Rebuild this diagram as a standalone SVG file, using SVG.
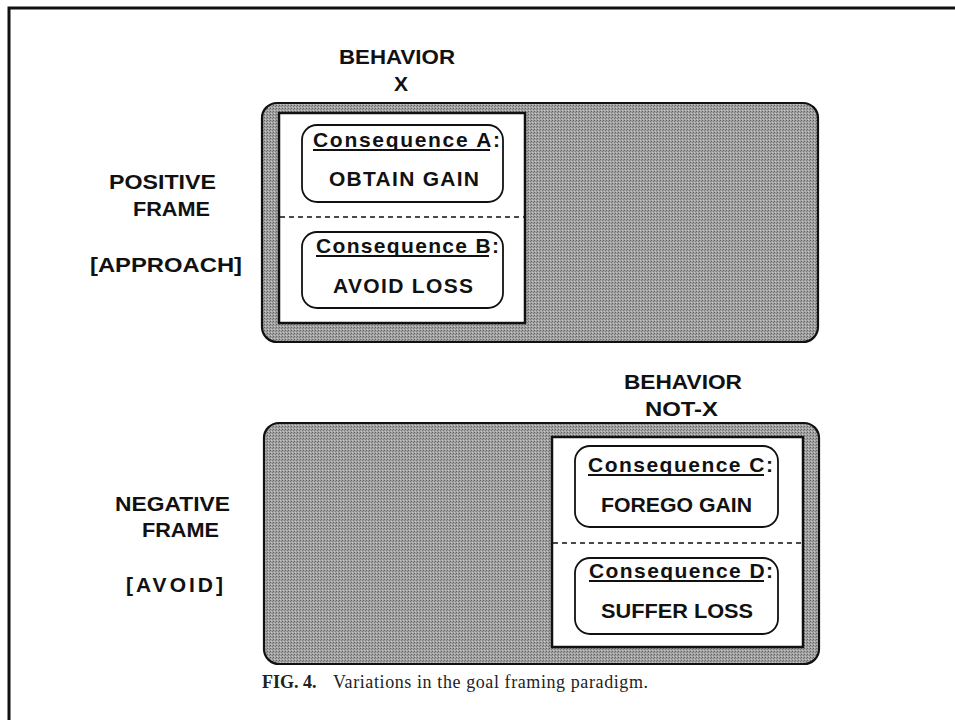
<svg xmlns="http://www.w3.org/2000/svg" width="955" height="720" viewBox="0 0 955 720">
<defs>
<pattern id="halftone" width="3" height="3" patternUnits="userSpaceOnUse">
<rect width="3" height="3" fill="#a2a2a2"/>
<rect x="0" y="0" width="1" height="1" fill="#626262"/>
<rect x="2" y="1" width="1" height="1" fill="#7c7c7c"/>
<rect x="1" y="2" width="1" height="1" fill="#c8c8c8"/>
</pattern>
<style>
.lbl{font-family:"Liberation Sans",Arial,sans-serif;font-weight:bold;font-size:21px;fill:#111}
.cap{font-family:"Liberation Serif","Times New Roman",serif;font-size:18px;fill:#222}
.gray{fill:url(#halftone);stroke:#111;stroke-width:2.2}
.white{fill:#fff;stroke:#111;stroke-width:2.5}
.cons{fill:#fff;stroke:#111;stroke-width:1.8}
.ul{stroke:#111;stroke-width:1.8}
.dash{stroke:#111;stroke-width:1.5;stroke-dasharray:5 4;fill:none}
</style>
</defs>
<rect width="955" height="720" fill="#fff"/>
<path d="M9,720 V8 H955" fill="none" stroke="#111" stroke-width="3"/>

<g id="frame-labels">
<text class="lbl" x="109" y="189" textLength="107" lengthAdjust="spacingAndGlyphs">POSITIVE</text>
<text class="lbl" x="133" y="216" textLength="77" lengthAdjust="spacingAndGlyphs">FRAME</text>
<text class="lbl" x="90" y="272" textLength="152" lengthAdjust="spacingAndGlyphs">[APPROACH]</text>
<text class="lbl" x="115" y="511" textLength="115" lengthAdjust="spacingAndGlyphs">NEGATIVE</text>
<text class="lbl" x="142" y="537" textLength="77" lengthAdjust="spacingAndGlyphs">FRAME</text>
<text class="lbl" x="126" y="592" textLength="97" lengthAdjust="spacing">[AVOID]</text>
</g>

<g id="behavior-x">
<text class="lbl" x="339" y="64" textLength="116" lengthAdjust="spacingAndGlyphs">BEHAVIOR</text>
<text class="lbl" x="401" y="91" text-anchor="middle">X</text>
<rect class="gray" x="262" y="103" width="556" height="239" rx="15"/>
<rect class="white" x="279" y="113" width="246" height="210"/>
<line class="dash" x1="280" y1="217" x2="524" y2="217"/>
</g>

<g id="consequence-a">
<rect class="cons" x="302" y="125" width="201" height="77" rx="15"/>
<text class="lbl" x="313" y="147" textLength="187" lengthAdjust="spacing">Consequence A:</text>
<line class="ul" x1="313" y1="150" x2="490" y2="150"/>
<text class="lbl" x="329" y="186" textLength="150" lengthAdjust="spacing">OBTAIN GAIN</text>
</g>

<g id="consequence-b">
<rect class="cons" x="302" y="232" width="201" height="76" rx="15"/>
<text class="lbl" x="316" y="253" textLength="183" lengthAdjust="spacing">Consequence B:</text>
<line class="ul" x1="316" y1="256" x2="489" y2="256"/>
<text class="lbl" x="333" y="293" textLength="140" lengthAdjust="spacing">AVOID LOSS</text>
</g>

<g id="behavior-not-x">
<text class="lbl" x="624" y="389" textLength="118" lengthAdjust="spacingAndGlyphs">BEHAVIOR</text>
<text class="lbl" x="645" y="416" textLength="73" lengthAdjust="spacingAndGlyphs">NOT-X</text>
<rect class="gray" x="264" y="423" width="555" height="241" rx="15"/>
<rect class="white" x="552" y="437" width="251" height="210"/>
<line class="dash" x1="553" y1="543" x2="802" y2="543"/>
</g>

<g id="consequence-c">
<rect class="cons" x="575" y="446" width="203" height="81" rx="15"/>
<text class="lbl" x="588" y="472" textLength="185" lengthAdjust="spacing">Consequence C:</text>
<line class="ul" x1="588" y1="475" x2="764" y2="475"/>
<text class="lbl" x="601" y="512" textLength="151" lengthAdjust="spacingAndGlyphs">FOREGO GAIN</text>
</g>

<g id="consequence-d">
<rect class="cons" x="575" y="558" width="203" height="76" rx="15"/>
<text class="lbl" x="589" y="578" textLength="184" lengthAdjust="spacing">Consequence D:</text>
<line class="ul" x1="589" y1="581" x2="764" y2="581"/>
<text class="lbl" x="601" y="618" textLength="152" lengthAdjust="spacingAndGlyphs">SUFFER LOSS</text>
</g>

<g id="caption">
<text class="cap" x="262" y="688" font-weight="bold">FIG. 4.</text>
<text class="cap" x="333" y="688" textLength="315" lengthAdjust="spacing">Variations in the goal framing paradigm.</text>
</g>
</svg>
